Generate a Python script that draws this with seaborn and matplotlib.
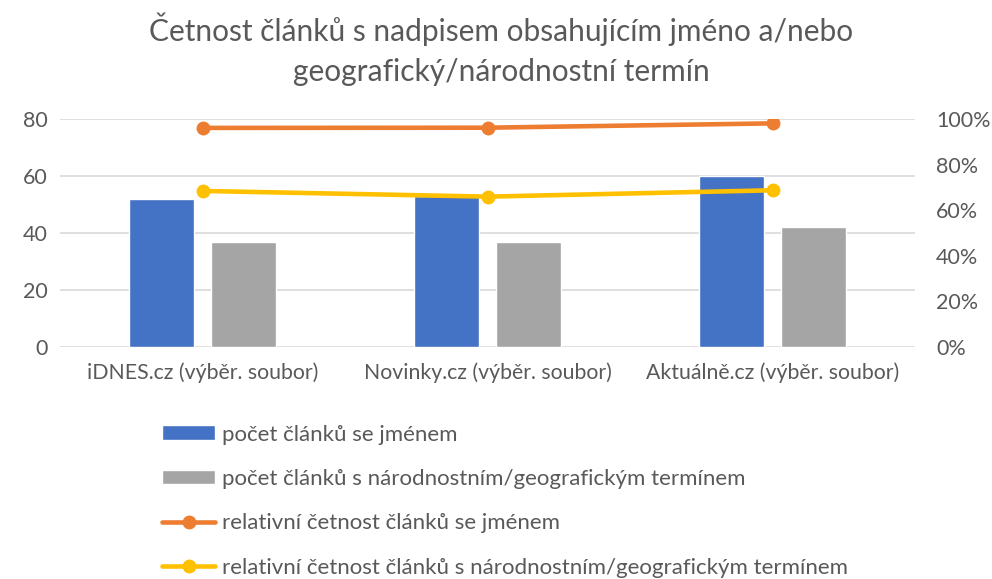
import numpy as np
import pandas as pd
import matplotlib
matplotlib.use("Agg")
import matplotlib.pyplot as plt
import seaborn as sns
from matplotlib.ticker import FuncFormatter, MultipleLocator
from matplotlib.patches import Patch
from matplotlib.lines import Line2D

categories = ["iDNES.cz (výběr. soubor)", "Novinky.cz (výběr. soubor)", "Aktuálně.cz (výběr. soubor)"]
count_name = [52, 53, 60]
count_geo = [37, 37, 42]
rel_name = [0.962, 0.963, 0.982]
rel_geo = [0.685, 0.660, 0.688]

series_names = [
    "počet článků se jménem",
    "počet článků s národnostním/geografickým termínem",
    "relativní četnost článků se jménem",
    "relativní četnost článků s národnostním/geografickým termínem",
]
title = "Četnost článků s nadpisem obsahujícím jméno a/nebo\ngeografický/národnostní termín"

sns.set_theme(style="white")
plt.rcParams["font.family"] = ["Lato", "DejaVu Sans"]

TXT = "#595959"
C_BLUE, C_GRAY, C_ORANGE, C_YELLOW = "#4472C4", "#A5A5A5", "#ED7D31", "#FFC000"

df = pd.DataFrame({
    "cat": categories * 2,
    "value": count_name + count_geo,
    "series": [series_names[0]] * 3 + [series_names[1]] * 3,
})

fig = plt.figure(figsize=(9.92, 5.79), dpi=100)
ax = fig.add_axes([0.0605, 0.401, 0.862, 0.393])
sns.barplot(data=df, x="cat", y="value", hue="series", order=categories,
            hue_order=series_names[:2], palette=[C_BLUE, C_GRAY],
            width=0.575, gap=0.2, saturation=1, ax=ax, legend=False)
ax.set_ylim(0, 80)
ax.set_xlim(-0.5, 2.5)
ax.yaxis.set_major_locator(MultipleLocator(20))
ax.grid(axis="y", color="#D9D9D9", linewidth=1.2)
ax.set_axisbelow(True)
for s in ax.spines.values():
    s.set_visible(False)
ax.set_xlabel("")
ax.set_ylabel("")
ax.tick_params(axis="y", length=0, pad=9, labelsize=15.5, labelcolor=TXT)
ax.tick_params(axis="x", length=0, pad=11, labelsize=15.3, labelcolor=TXT)

ax2 = ax.twinx()
x = np.arange(len(categories))
sns.lineplot(x=x, y=rel_name, ax=ax2, color=C_ORANGE, linewidth=3.3,
             marker="o", markersize=10, markeredgewidth=0, legend=False)
sns.lineplot(x=x, y=rel_geo, ax=ax2, color=C_YELLOW, linewidth=3.3,
             marker="o", markersize=10, markeredgewidth=0, legend=False)
ax2.set_ylim(0, 1)
ax2.set_xlim(-0.5, 2.5)
ax2.yaxis.set_major_locator(MultipleLocator(0.2))
ax2.yaxis.set_major_formatter(FuncFormatter(lambda v, p: f"{v*100:.0f}%"))
ax2.tick_params(axis="y", length=0, pad=15, labelsize=15.5, labelcolor=TXT)
ax2.grid(False)
for s in ax2.spines.values():
    s.set_visible(False)

fig.suptitle(title, x=0.505, y=0.978, fontsize=21.5, color=TXT, linespacing=1.5)

handles = [
    Patch(facecolor=C_BLUE),
    Patch(facecolor=C_GRAY),
    Line2D([0], [0], color=C_ORANGE, linewidth=3.3, marker="o", markersize=10, markeredgewidth=0),
    Line2D([0], [0], color=C_YELLOW, linewidth=3.3, marker="o", markersize=10, markeredgewidth=0),
]
leg = fig.legend(handles, series_names, loc="upper left", bbox_to_anchor=(0.152, 0.286),
                 frameon=False, fontsize=16, labelcolor=TXT, handlelength=2.4,
                 handleheight=0.63, handletextpad=0.3, labelspacing=1.1, borderpad=0)

fig.savefig("out.png", dpi=100)
